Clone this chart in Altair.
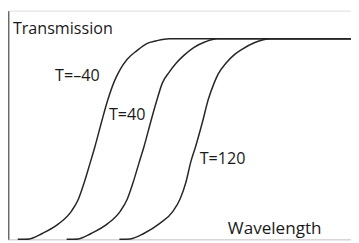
import altair as alt
import pandas as pd

# Curve points (arbitrary wavelength units, transmission in %)
c1_x = [10, 22, 35, 52, 65, 72, 78, 84, 89, 96, 102, 109, 115, 122, 132, 142, 152, 165, 351]
c1_y = [0, 0.2, 2.9, 7.8, 14.1, 20.0, 28.3, 38.0, 46.3, 59.0, 69.3, 79.0, 84.9, 89.8, 94.1, 97.6, 99.0, 100, 100]
c2_x = [60, 72, 85, 102, 115, 122, 128, 134, 139, 146, 152, 158, 165, 172, 180, 190, 202, 214, 351]
c2_y = [0, 0.2, 2.9, 7.8, 14.1, 20.0, 28.3, 38.0, 45.9, 58.5, 68.8, 78.0, 83.4, 87.8, 91.7, 95.6, 98.5, 100, 100]
c3_x = [114, 125, 139, 155, 169, 176, 182, 187, 192, 199, 205, 211, 215, 223, 232, 239, 252, 269, 351]
c3_y = [0, 0.2, 2.9, 7.8, 14.1, 20.0, 28.3, 38.5, 46.3, 58.5, 69.8, 78.0, 82.4, 87.8, 92.2, 94.6, 98.0, 100, 100]

label_text = ["T=–40", "T=40", "T=120"]
label_x = [71, 122, 219.5]
label_y = [79, 59.5, 37.6]

title_text = ["Transmission", "Wavelength"]
title_x = [5, 225]
title_y = [102.4, 2.9]
title_size = [16.5, 17.5]

rows = []
for name, xs, ys in [("c1", c1_x, c1_y), ("c2", c2_x, c2_y), ("c3", c3_x, c3_y)]:
    for i, (x, y) in enumerate(zip(xs, ys)):
        rows.append({"curve": name, "x": x, "y": y, "order": i})
curves = pd.DataFrame(rows)

labels = pd.DataFrame({"text": label_text, "x": label_x, "y": label_y})
titles = pd.DataFrame({"text": title_text, "x": title_x, "y": title_y, "size": title_size})

xs = alt.Scale(domain=[0, 351], nice=False, zero=False)
ys = alt.Scale(domain=[0, 114], nice=False, zero=False)

lines = alt.Chart(curves).mark_line(
    interpolate="monotone", color="#262626", strokeWidth=1.5
).encode(
    x=alt.X("x:Q", scale=xs, axis=alt.Axis(domain=True, domainColor="#cfcfcf", domainWidth=1,
                                           ticks=False, labels=False, grid=False, title=None)),
    y=alt.Y("y:Q", scale=ys, axis=alt.Axis(domain=True, domainColor="#6a6a6a", domainWidth=2,
                                           ticks=False, labels=False, grid=False, title=None)),
    detail="curve:N",
    order="order:Q",
)

lab = alt.Chart(labels).mark_text(
    font="Open Sans", fontSize=16.5, color="#1a1a1a", align="center", baseline="alphabetic"
).encode(x=alt.X("x:Q", scale=xs), y=alt.Y("y:Q", scale=ys), text="text:N")

tit = alt.Chart(titles).mark_text(
    font="Open Sans", color="#1a1a1a", align="left", baseline="alphabetic"
).encode(
    x=alt.X("x:Q", scale=xs), y=alt.Y("y:Q", scale=ys), text="text:N",
    size=alt.Size("size:Q", scale=None, legend=None),
)

chart = alt.layer(lines, lab, tit).properties(
    width=351, height=234, padding=0, autosize=alt.AutoSizeParams(type="none")
).configure_view(stroke=None).configure(background="white")

chart.save("out.html", embed_options={"renderer": "svg", "actions": False})
